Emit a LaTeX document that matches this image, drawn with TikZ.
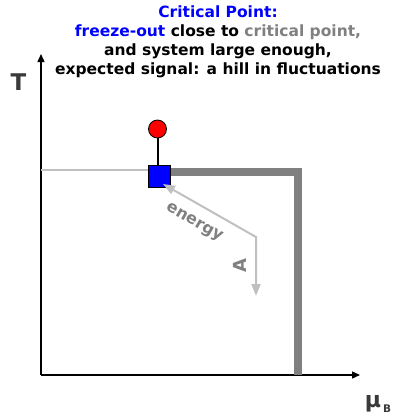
\documentclass[tikz,border=0pt]{standalone}
\usepackage{fontspec}
\setmainfont{DejaVu Sans}
\usetikzlibrary{arrows.meta}
\definecolor{critgray}{HTML}{808080}
\definecolor{lightg}{HTML}{C0C0C0}
\definecolor{labgray}{HTML}{3A3A3A}
\tikzset{
  axis/.style={draw=black, line width=1.3pt, -{Triangle[length=8pt,width=7pt]}},
  title/.style={font=\fontsize{15.5}{19}\selectfont\bfseries, align=center, inner sep=0pt},
  arrowlbl/.style={text=critgray, font=\fontsize{16}{18}\selectfont\bfseries, inner sep=0pt},
  axlbl/.style={text=labgray, font=\fontsize{23}{26}\selectfont\bfseries, inner sep=0pt},
}
\begin{document}
\begin{tikzpicture}[x=1pt,y=-1pt]
\useasboundingbox (0,0) rectangle (393,418);
% title
\node[title] (title) at (218,42) {\textcolor{blue}{Critical Point:}\\
\textcolor{blue}{freeze-out} close to \textcolor{critgray}{critical point,}\\
and system large enough,\\
expected signal: a hill in fluctuations};
% axes
\coordinate (origin) at (41,375);
\coordinate (ytip) at (41,54);
\coordinate (xtip) at (360,375);
\draw[axis] (origin) -- (ytip);
\draw[axis] (origin) -- (xtip);
\node[axlbl, anchor=base] (T) at (18.5,90) {T};
\node[axlbl, font=\fontsize{22}{26}\selectfont\bfseries, anchor=base] (mu) at (373,407) {μ};
\node[text=labgray, font=\fontsize{10.5}{12}\selectfont\bfseries, anchor=base, inner sep=0pt] (B) at (387,412.7) {B};
% phase lines
\coordinate (lstart) at (41,170);
\coordinate (tstart) at (165,172);
\coordinate (corner) at (298,172);
\coordinate (tend) at (298,375);
\draw[lightg, line width=2pt] (lstart) -- (150,170);
\draw[critgray, line width=8.5pt] (tstart) -- (corner) -- (tend);
% freeze-out point
\node[draw=black, fill=blue, minimum size=22pt, inner sep=0pt, line width=0.8pt] (sq) at (159,176) {};
\node[draw=black, fill=red, circle, minimum size=18pt, inner sep=0pt, line width=0.8pt] (dot) at (157.5,129) {};
\draw[black, line width=2pt] (dot.south) -- (dot.south |- sq.north);
% energy / A arrows
\coordinate (bend) at (256,237);
\coordinate (aend) at (256,296);
\draw[lightg, line width=2pt, {Triangle[length=12pt,width=9pt]}-{Triangle[length=12pt,width=9pt]}] (163,184) -- (bend) -- (aend);
\node[arrowlbl, rotate=-30] (energy) at (194,223) {energy};
\node[arrowlbl, font=\fontsize{18}{20}\selectfont\bfseries, rotate=90] (A) at (240,266) {A};
\end{tikzpicture}
\end{document}
